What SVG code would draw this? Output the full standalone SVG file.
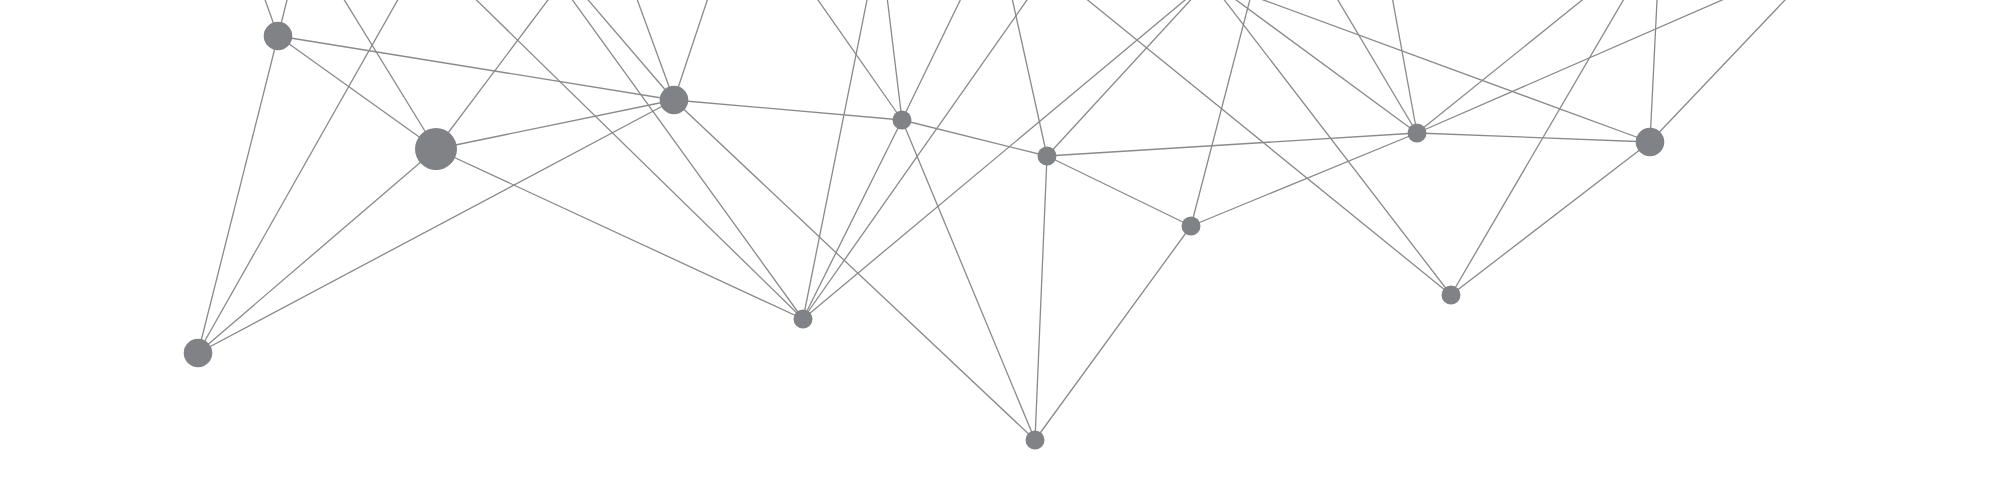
<svg xmlns="http://www.w3.org/2000/svg" width="2000" height="490" viewBox="0 0 2000 490">
<style>
.e{stroke:#8a8a8c;stroke-width:1.3;fill:none}
.n{fill:#808285}
</style>
<rect width="2000" height="490" fill="#ffffff"/>
<g id="connectors" class="e">
<line x1="278" y1="36" x2="258" y2="-20"/>
<line x1="278" y1="36" x2="292" y2="-20"/>
<line x1="436" y1="149" x2="332" y2="-20"/>
<line x1="436" y1="149" x2="563" y2="-20"/>
<line x1="198" y1="353" x2="409" y2="-20"/>
<line x1="803" y1="319" x2="456" y2="-20"/>
<line x1="803" y1="319" x2="558" y2="-20"/>
<line x1="674" y1="100" x2="571" y2="-20"/>
<line x1="674" y1="100" x2="630" y2="-20"/>
<line x1="674" y1="100" x2="714" y2="-20"/>
<line x1="902" y1="120" x2="804" y2="-20"/>
<line x1="902" y1="120" x2="885" y2="-20"/>
<line x1="902" y1="120" x2="970" y2="-20"/>
<line x1="803" y1="319" x2="871" y2="-20"/>
<line x1="803" y1="319" x2="1041" y2="-20"/>
<line x1="803" y1="319" x2="1209" y2="-20"/>
<line x1="1047" y1="156" x2="1008" y2="-20"/>
<line x1="1047" y1="156" x2="1209" y2="-20"/>
<line x1="1451" y1="295" x2="1063" y2="-20"/>
<line x1="1451" y1="295" x2="1209" y2="-20"/>
<line x1="1451" y1="295" x2="1635" y2="-20"/>
<line x1="1191" y1="226" x2="1255" y2="-20"/>
<line x1="1417" y1="133" x2="1209" y2="-20"/>
<line x1="1417" y1="133" x2="1326" y2="-20"/>
<line x1="1417" y1="133" x2="1389" y2="-20"/>
<line x1="1417" y1="133" x2="1607" y2="-20"/>
<line x1="1417" y1="133" x2="1768" y2="-20"/>
<line x1="1650" y1="142" x2="1209" y2="-20"/>
<line x1="1650" y1="142" x2="1658" y2="-20"/>
<line x1="1650" y1="142" x2="1804" y2="-20"/>
<line x1="278" y1="36" x2="436" y2="149"/>
<line x1="278" y1="36" x2="674" y2="100"/>
<line x1="278" y1="36" x2="198" y2="353"/>
<line x1="436" y1="149" x2="674" y2="100"/>
<line x1="436" y1="149" x2="803" y2="319"/>
<line x1="436" y1="149" x2="198" y2="353"/>
<line x1="198" y1="353" x2="674" y2="100"/>
<line x1="674" y1="100" x2="902" y2="120"/>
<line x1="674" y1="100" x2="1035" y2="440"/>
<line x1="902" y1="120" x2="1047" y2="156"/>
<line x1="902" y1="120" x2="803" y2="319"/>
<line x1="902" y1="120" x2="1035" y2="440"/>
<line x1="1047" y1="156" x2="1191" y2="226"/>
<line x1="1047" y1="156" x2="1417" y2="133"/>
<line x1="1047" y1="156" x2="1035" y2="440"/>
<line x1="1191" y1="226" x2="1417" y2="133"/>
<line x1="1191" y1="226" x2="1035" y2="440"/>
<line x1="1417" y1="133" x2="1650" y2="142"/>
<line x1="1650" y1="142" x2="1451" y2="295"/>
</g>
<g id="nodeA"><circle class="n" cx="278" cy="36" r="14.3"/></g>
<g id="nodeB"><circle class="n" cx="436" cy="149" r="21"/></g>
<g id="nodeC"><circle class="n" cx="674" cy="100" r="14.3"/></g>
<g id="nodeD"><circle class="n" cx="902" cy="120" r="9.5"/></g>
<g id="nodeE"><circle class="n" cx="1047" cy="156" r="9.5"/></g>
<g id="nodeF"><circle class="n" cx="1191" cy="226" r="9.5"/></g>
<g id="nodeG"><circle class="n" cx="1417" cy="133" r="9.5"/></g>
<g id="nodeH"><circle class="n" cx="1650" cy="142" r="14.3"/></g>
<g id="nodeI"><circle class="n" cx="1451" cy="295" r="9.5"/></g>
<g id="nodeJ"><circle class="n" cx="803" cy="319" r="9.5"/></g>
<g id="nodeK"><circle class="n" cx="1035" cy="440" r="9.5"/></g>
<g id="nodeL"><circle class="n" cx="198" cy="353" r="14.3"/></g>
</svg>
